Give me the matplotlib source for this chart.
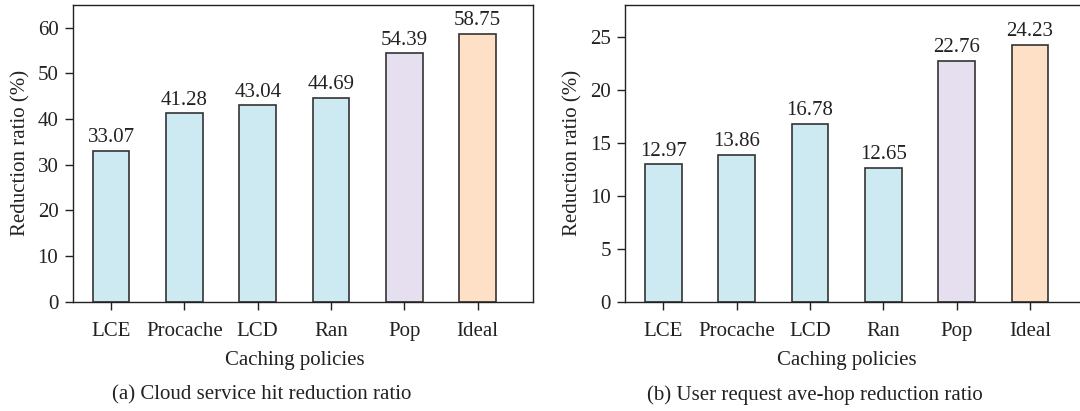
import matplotlib
matplotlib.use("Agg")
import matplotlib.pyplot as plt

plt.rcParams['font.family'] = ['Liberation Serif', 'DejaVu Serif']

policies = ["LCE", "Procache", "LCD", "Ran", "Pop", "Ideal"]
hit_reduction = [33.07, 41.28, 43.04, 44.69, 54.39, 58.75]
hop_reduction = [12.97, 13.86, 16.78, 12.65, 22.76, 24.23]

bar_colors = ["#cde9f1", "#cde9f1", "#cde9f1", "#cde9f1", "#e6dff0", "#fee0c6"]
edge_color = "#333333"

W, H = 1080, 411
fig = plt.figure(figsize=(W / 100, H / 100), dpi=100)

FS = 15
XMIN, XMAX = -0.52, 5.76


def panel(left_px, values, ymax, yticks, caption, cap_x):
    ax = fig.add_axes([left_px / W, 1 - 301.7 / H, (533.3 - 73) / W, (301.7 - 5) / H])
    x = list(range(len(policies)))
    ax.bar(x, values, width=0.5, color=bar_colors, edgecolor=edge_color,
           linewidth=1.2, zorder=2)
    for xi, v in zip(x, values):
        ax.annotate(f"{v:.2f}", (xi, v), xytext=(0, 2.5), textcoords="offset points",
                    ha="center", va="bottom", fontsize=FS, color="#222222")
    ax.set_xlim(XMIN, XMAX)
    ax.set_ylim(0, ymax)
    ax.set_yticks(yticks)
    ax.set_xticks(x)
    ax.set_xticklabels(policies)
    ax.tick_params(axis="both", direction="out", length=5.5, width=1.0,
                   labelsize=FS, colors="#222222", pad=5)
    ax.tick_params(axis="x", pad=9)
    for s in ax.spines.values():
        s.set_linewidth(1.0)
        s.set_color("#222222")
    ax.set_ylabel("Reduction ratio (%)", fontsize=FS, color="#222222", labelpad=5)
    ax.set_xlabel("Caching policies", fontsize=FS, color="#222222", labelpad=7)
    ax.xaxis.label.set_x((2.5 - XMIN) / (XMAX - XMIN))
    fig.text(cap_x / W, 1 - 395 / H, caption, ha="center", va="center",
             fontsize=FS, color="#222222")
    return ax


panel(73, hit_reduction, 65, [0, 10, 20, 30, 40, 50, 60],
      "(a) Cloud service hit reduction ratio", 262)
panel(625.3, hop_reduction, 28, [0, 5, 10, 15, 20, 25],
      "(b) User request ave-hop reduction ratio", 815)

fig.savefig("out.png", dpi=100)
